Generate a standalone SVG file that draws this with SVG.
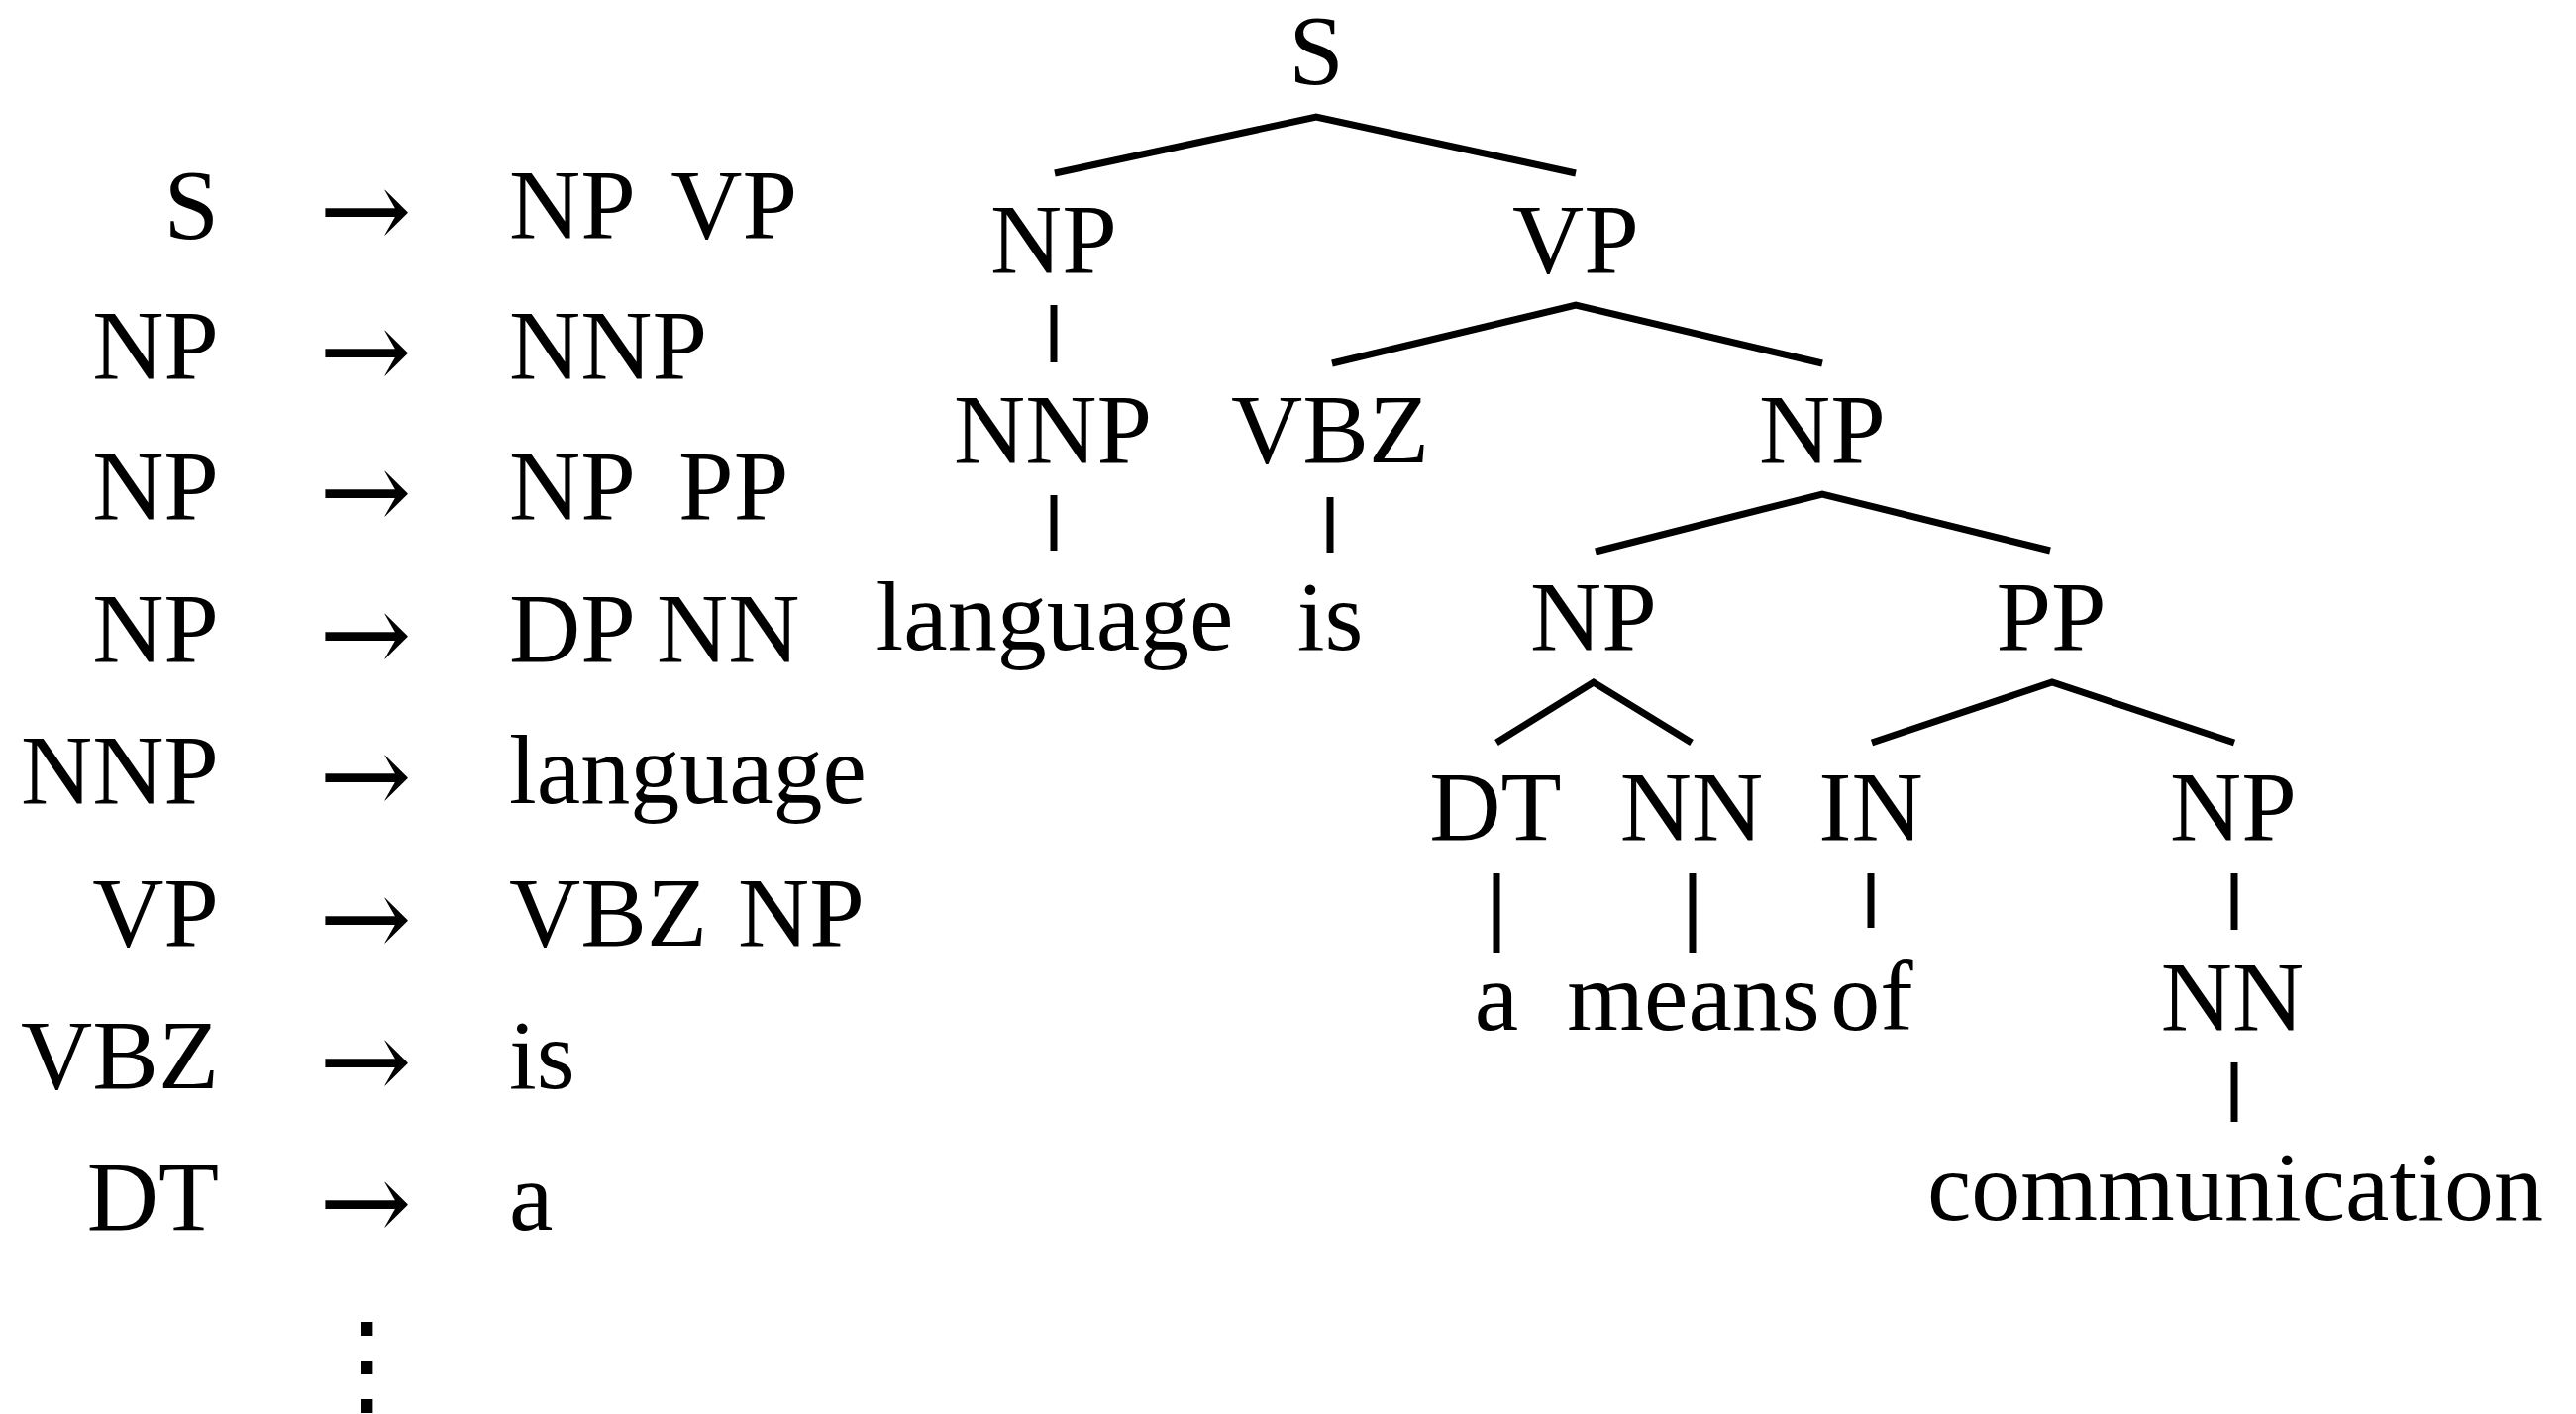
<svg xmlns="http://www.w3.org/2000/svg" width="2601" height="1428" viewBox="0 0 2601 1428">
  <style>
    text { font-family: "Liberation Serif", "Times New Roman", serif; font-size: 100px; fill: #000; }
    .lhs { text-anchor: end; }
    .arr { text-anchor: middle; font-family: "DejaVu Serif", serif; font-size: 112px; }
    .dots { text-anchor: middle; font-family: "DejaVu Serif", serif; font-size: 115px; }
    .rhs { text-anchor: start; }
    .node text { text-anchor: middle; }
    #connectors path { fill: none; stroke: #000; stroke-width: 7; stroke-linejoin: miter; }
  </style>
  <rect width="2601" height="1428" fill="#fff"/>

  <!-- grammar rules -->
  <g id="rules">
    <g id="rule-1"><text class="lhs" x="221" y="240">S</text><text class="arr" x="369" y="251">→</text><text class="rhs" x="514" y="240" style="word-spacing:16px">NP VP</text></g>
    <g id="rule-2"><text class="lhs" x="221" y="382">NP</text><text class="arr" x="369" y="393">→</text><text class="rhs" x="514" y="382">NNP</text></g>
    <g id="rule-3"><text class="lhs" x="221" y="524">NP</text><text class="arr" x="369" y="535">→</text><text class="rhs" x="514" y="524" style="word-spacing:22px">NP PP</text></g>
    <g id="rule-4"><text class="lhs" x="221" y="668">NP</text><text class="arr" x="369" y="679">→</text><text class="rhs" x="514" y="668">DP NN</text></g>
    <g id="rule-5"><text class="lhs" x="221" y="811">NNP</text><text class="arr" x="369" y="822">→</text><text class="rhs" x="514" y="811">language</text></g>
    <g id="rule-6"><text class="lhs" x="221" y="955">VP</text><text class="arr" x="369" y="966">→</text><text class="rhs" x="514" y="955" style="word-spacing:6px">VBZ NP</text></g>
    <g id="rule-7"><text class="lhs" x="221" y="1099">VBZ</text><text class="arr" x="369" y="1110">→</text><text class="rhs" x="514" y="1099">is</text></g>
    <g id="rule-8"><text class="lhs" x="221" y="1242">DT</text><text class="arr" x="369" y="1253">→</text><text class="rhs" x="514" y="1242">a</text></g>
    <text id="more-rules" class="dots" x="370" y="1417">⋮</text>
  </g>

  <!-- parse tree edges -->
  <g id="connectors">
    <path d="M1065,175 L1329,118 L1591,175"/>
    <path d="M1064,308 V366"/>
    <path d="M1345,367 L1591,308 L1840,367"/>
    <path d="M1064,500 V556"/>
    <path d="M1343,502 V558"/>
    <path d="M1611,557 L1840,499 L2070,556"/>
    <path d="M1511,750 L1609,689 L1708,750"/>
    <path d="M1890,750 L2072,689 L2256,750"/>
    <path d="M1511,882 V962"/>
    <path d="M1709,882 V962"/>
    <path d="M1889,882 V937"/>
    <path d="M2256,882 V939"/>
    <path d="M2256,1073 V1133"/>
  </g>

  <!-- parse tree nodes -->
  <g id="tree">
    <g id="n-s" class="node"><text x="1329" y="84">S</text></g>
    <g id="n-np1" class="node"><text x="1064" y="275">NP</text></g>
    <g id="n-vp" class="node"><text x="1591" y="275">VP</text></g>
    <g id="n-nnp" class="node"><text x="1063" y="467">NNP</text></g>
    <g id="n-vbz" class="node"><text x="1343" y="467">VBZ</text></g>
    <g id="n-np2" class="node"><text x="1840" y="467">NP</text></g>
    <g id="n-language" class="node"><text x="1065" y="656">language</text></g>
    <g id="n-is" class="node"><text x="1343" y="656">is</text></g>
    <g id="n-np3" class="node"><text x="1609" y="656">NP</text></g>
    <g id="n-pp" class="node"><text x="2071" y="656">PP</text></g>
    <g id="n-dt" class="node"><text x="1510" y="848">DT</text></g>
    <g id="n-nn1" class="node"><text x="1708" y="848">NN</text></g>
    <g id="n-in" class="node"><text x="1889" y="848">IN</text></g>
    <g id="n-np4" class="node"><text x="2255" y="848">NP</text></g>
    <g id="n-a" class="node"><text x="1511" y="1040">a</text></g>
    <g id="n-means" class="node"><text x="1710" y="1040">means</text></g>
    <g id="n-of" class="node"><text x="1890" y="1040">of</text></g>
    <g id="n-nn2" class="node"><text x="2254" y="1040">NN</text></g>
    <g id="n-communication" class="node"><text x="2257" y="1232">communication</text></g>
  </g>
</svg>
